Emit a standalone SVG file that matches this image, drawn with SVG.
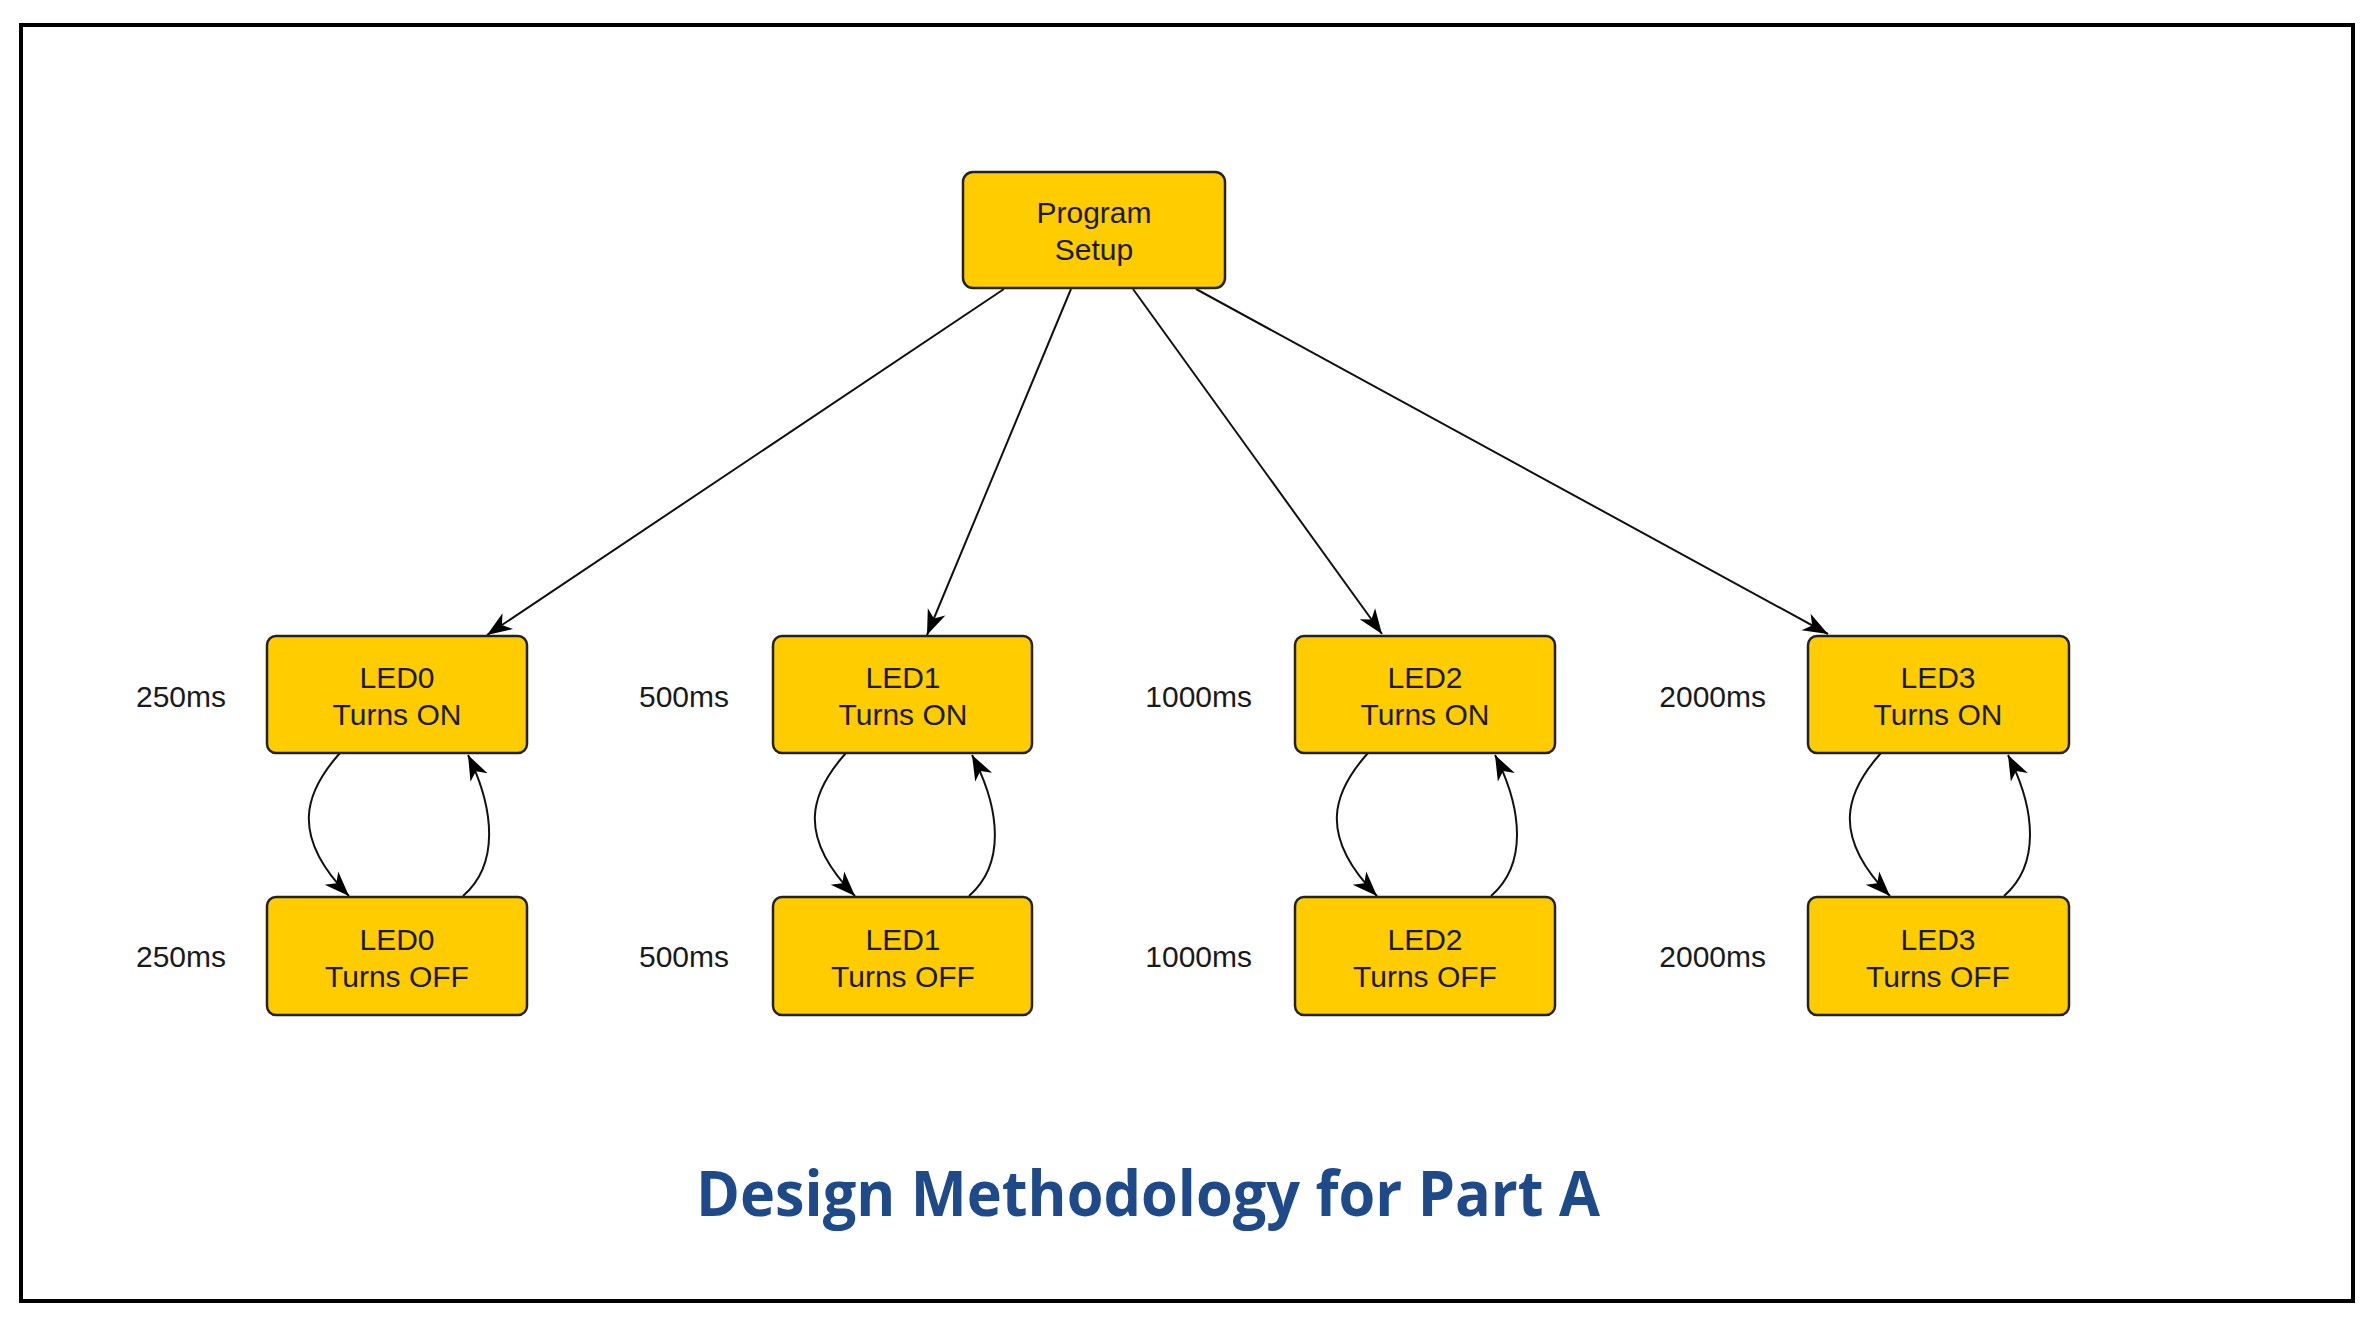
<svg xmlns="http://www.w3.org/2000/svg" width="2376" height="1326" viewBox="0 0 2376 1326">
<style>
.box{fill:#FFCC00;stroke:#222;stroke-width:2.5}
.t{font-family:"Liberation Sans",Arial,sans-serif;font-size:30px;fill:#1a1a1a;text-anchor:middle}
.lbl{font-family:"Liberation Sans",Arial,sans-serif;font-size:30px;fill:#1a1a1a;text-anchor:end}
.c{fill:none;stroke:#111;stroke-width:2}
.title{font-family:"Open Sans","Noto Sans",sans-serif;font-weight:700;font-size:62px;fill:#1F4A8A}
</style>
<defs>
<marker id="ah" markerUnits="userSpaceOnUse" viewBox="-26 -11 27 22" refX="0" refY="0" markerWidth="27" markerHeight="22" orient="auto">
<path d="M0,0 L-25,-9.5 L-18,0 L-25,9.5 Z" fill="#000"/>
</marker>
</defs>
<rect x="0" y="0" width="2376" height="1326" fill="#fff"/>
<rect x="21" y="25" width="2332" height="1276" fill="none" stroke="#000" stroke-width="4"/>

<g id="connectors">
<line class="c" x1="1004" y1="289" x2="487" y2="635" marker-end="url(#ah)"/>
<line class="c" x1="1071" y1="289" x2="927" y2="635" marker-end="url(#ah)"/>
<line class="c" x1="1133" y1="289" x2="1382" y2="634" marker-end="url(#ah)"/>
<line class="c" x1="1196" y1="289" x2="1828" y2="634" marker-end="url(#ah)"/>

<path class="c" d="M340,753 C305,792 289,835 349,896" marker-end="url(#ah)"/>
<path class="c" d="M463,896 C499,865 495,810 468,755" marker-end="url(#ah)"/>

<path class="c" d="M846,753 C811,792 795,835 855,896" marker-end="url(#ah)"/>
<path class="c" d="M969,896 C1005,865 1001,810 972,755" marker-end="url(#ah)"/>

<path class="c" d="M1368,753 C1333,792 1317,835 1377,896" marker-end="url(#ah)"/>
<path class="c" d="M1491,896 C1527,865 1523,810 1495,755" marker-end="url(#ah)"/>

<path class="c" d="M1881,753 C1846,792 1830,835 1890,896" marker-end="url(#ah)"/>
<path class="c" d="M2004,896 C2040,865 2036,810 2008,755" marker-end="url(#ah)"/>
</g>

<g id="setup">
<rect class="box" x="963" y="172" width="262" height="116" rx="10"/>
<text class="t" x="1094" y="223">Program</text>
<text class="t" x="1094" y="260">Setup</text>
</g>

<g id="led0-on">
<rect class="box" x="267" y="636" width="260" height="117" rx="9"/>
<text class="t" x="397" y="688">LED0</text>
<text class="t" x="397" y="725">Turns ON</text>
</g>
<g id="led0-off">
<rect class="box" x="267" y="897" width="260" height="118" rx="9"/>
<text class="t" x="397" y="950">LED0</text>
<text class="t" x="397" y="987">Turns OFF</text>
</g>
<g id="led1-on">
<rect class="box" x="773" y="636" width="259" height="117" rx="9"/>
<text class="t" x="903" y="688">LED1</text>
<text class="t" x="903" y="725">Turns ON</text>
</g>
<g id="led1-off">
<rect class="box" x="773" y="897" width="259" height="118" rx="9"/>
<text class="t" x="903" y="950">LED1</text>
<text class="t" x="903" y="987">Turns OFF</text>
</g>
<g id="led2-on">
<rect class="box" x="1295" y="636" width="260" height="117" rx="9"/>
<text class="t" x="1425" y="688">LED2</text>
<text class="t" x="1425" y="725">Turns ON</text>
</g>
<g id="led2-off">
<rect class="box" x="1295" y="897" width="260" height="118" rx="9"/>
<text class="t" x="1425" y="950">LED2</text>
<text class="t" x="1425" y="987">Turns OFF</text>
</g>
<g id="led3-on">
<rect class="box" x="1808" y="636" width="261" height="117" rx="9"/>
<text class="t" x="1938" y="688">LED3</text>
<text class="t" x="1938" y="725">Turns ON</text>
</g>
<g id="led3-off">
<rect class="box" x="1808" y="897" width="261" height="118" rx="9"/>
<text class="t" x="1938" y="950">LED3</text>
<text class="t" x="1938" y="987">Turns OFF</text>
</g>

<g id="labels">
<text class="lbl" x="226" y="707">250ms</text>
<text class="lbl" x="226" y="967">250ms</text>
<text class="lbl" x="729" y="707">500ms</text>
<text class="lbl" x="729" y="967">500ms</text>
<text class="lbl" x="1252" y="707">1000ms</text>
<text class="lbl" x="1252" y="967">1000ms</text>
<text class="lbl" x="1766" y="707">2000ms</text>
<text class="lbl" x="1766" y="967">2000ms</text>
</g>

<text class="title" x="696" y="1216" textLength="904" lengthAdjust="spacingAndGlyphs">Design Methodology for Part A</text>
</svg>
